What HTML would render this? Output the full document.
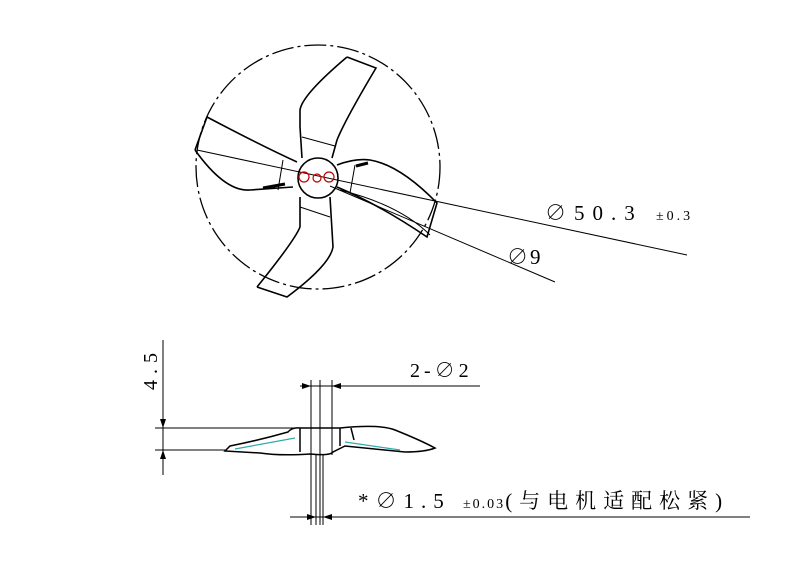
<!DOCTYPE html><html><head><style>body{margin:0;background:#fff}svg{display:block}text{font-family:"Liberation Serif","Noto Serif CJK SC",serif;fill:#000}</style></head><body>
<svg width="789" height="568" viewBox="0 0 789 568" xmlns="http://www.w3.org/2000/svg">
<g fill="none" stroke="#000">
<circle cx="318" cy="167" r="122" stroke-width="1.3" stroke-dasharray="22,4,3,4"/>
<g stroke-width="1.6">
<path d="M347,57 L376,68 Q345,120 337,140 L332,158"/>
<path d="M347,57 Q302,95 300,110 L300,127 L302,158"/>
<path d="M257,287 L287,297 Q330,265 333,247 L330,197"/>
<path d="M257,287 Q295,240 300,227 L300,197"/>
<path d="M207,117 L195,150 M207,117 Q260,145 297,162"/>
<path d="M195,150 Q225,192 250,190 L293,187"/>
<path d="M337,165 Q355,158 370,160 Q400,165 437,203 L427,237 Q380,205 337,187"/>
<circle cx="318" cy="178" r="20"/>
</g>
<g stroke-width="1">
<path d="M302,137 L335,146 M300,207 L330,217 M283,160 L278,190 M355,165 L350,193"/>
<line x1="197" y1="150" x2="687" y2="255"/>
<line x1="330" y1="186" x2="555" y2="282"/>
<path d="M340,190 Q400,205 430,235"/>
</g>
<g stroke="#b00" stroke-width="1.2">
<circle cx="304" cy="177" r="5"/><circle cx="317" cy="178" r="4"/><circle cx="329" cy="177" r="5"/>
</g>
<g stroke-width="3"><path d="M263,188 L285,184 M356,166 L368,163"/></g>
<g stroke-width="1">
<line x1="163" y1="340" x2="163" y2="475"/>
<line x1="155" y1="428" x2="300" y2="428"/>
<line x1="155" y1="450" x2="225" y2="450"/>
<line x1="300" y1="386" x2="480" y2="386"/>
<line x1="290" y1="517" x2="750" y2="517"/>
<line x1="311" y1="380" x2="311" y2="525"/>
<line x1="320" y1="380" x2="320" y2="525"/>
<line x1="332" y1="380" x2="332" y2="455"/>
<line x1="316" y1="455" x2="316" y2="525"/>
<line x1="323" y1="455" x2="323" y2="525"/>
</g>
<g stroke-width="1.5">
<path d="M230,446 Q260,440 288,432 Q292,427 300,428 L340,428 Q380,424 395,430 Q420,440 435,448 Q425,452 405,452 L345,446 L333,452 Q330,456 310,454 Q280,456 260,453 L225,451 Z"/>
<path d="M300,428 L300,452 M340,428 L340,446 M351,428 L354,440"/>
</g>
<path d="M235,449 L295,438 M345,442 L400,450" stroke="#3aa" stroke-width="1.2"/>
</g>
<g fill="#000">
<path d="M163,428 l-3,-9 h6z M163,450 l-3,9 h6z"/>
<path d="M311,386 l-9,-3 v6z M332,386 l9,-3 v6z M316,517 l-9,-3 v6z M323,517 l9,-3 v6z"/>
</g>
<text x="0" y="0" font-size="20" transform="translate(157,390) rotate(-90)" letter-spacing="6">4.5</text>
<text x="410" y="377" font-size="20" letter-spacing="4">2-∅2</text>
<text x="545" y="220" font-size="21" letter-spacing="8">∅50.3 <tspan font-size="14" letter-spacing="3">±0.3</tspan></text>
<text x="507" y="264" font-size="21" letter-spacing="2">∅9</text>
<text x="358" y="508" font-size="21" letter-spacing="7">*∅1.5 <tspan font-size="14" letter-spacing="2">±0.03</tspan>(与电机适配松紧)</text>
</svg></body></html>
